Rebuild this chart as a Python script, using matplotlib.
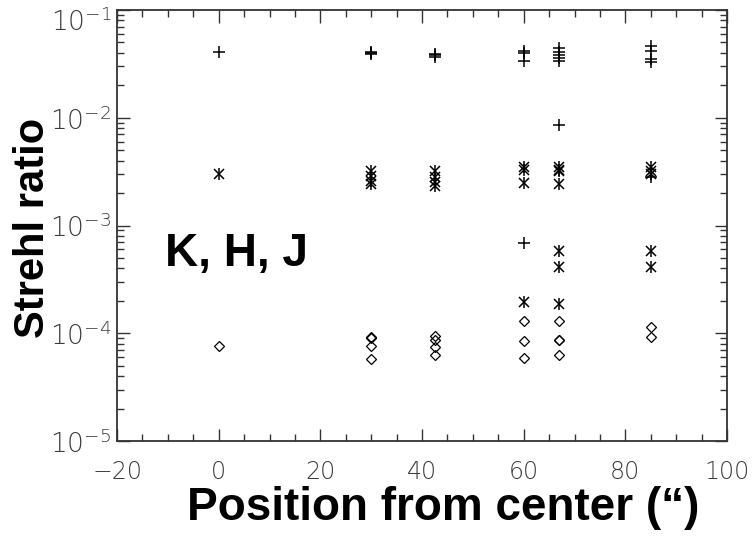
import numpy as np
import matplotlib
matplotlib.use("Agg")
import matplotlib.pyplot as plt
import matplotlib.transforms as mtransforms
from matplotlib.ticker import MultipleLocator, LogLocator, NullFormatter

# positions of the fields (arcsec from center)
# K band (plus), H band (asterisk), J band (diamond)
k_x = [0, 30, 30, 30, 42.5, 42.5, 42.5,
       60, 60, 60, 60,
       67, 67, 67, 67, 67, 67,
       85, 85, 85, 85, 85]
k_y = [0.041, 0.041, 0.040, 0.039, 0.039, 0.038, 0.037,
       0.042, 0.040, 0.034, 6.9e-4,
       0.044, 0.041, 0.038, 0.036, 0.034, 8.5e-3,
       0.046, 0.042, 0.035, 0.033, 2.8e-3]

h_x = [0, 30, 30, 30, 30, 42.5, 42.5, 42.5, 42.5,
       60, 60, 60, 60,
       67, 67, 67, 67, 67, 67, 67,
       85, 85, 85, 85, 85]
h_y = [3.0e-3, 3.2e-3, 2.9e-3, 2.6e-3, 2.45e-3, 3.2e-3, 2.8e-3, 2.55e-3, 2.35e-3,
       3.5e-3, 3.3e-3, 2.5e-3, 1.97e-4,
       3.5e-3, 3.3e-3, 3.2e-3, 2.45e-3, 5.8e-4, 4.1e-4, 1.88e-4,
       3.5e-3, 3.2e-3, 3.0e-3, 5.8e-4, 4.1e-4]

j_x = [0, 30, 30, 30, 30, 42.5, 42.5, 42.5, 42.5,
       60, 60, 60,
       67, 67, 67, 67,
       85, 85]
j_y = [7.6e-5, 9.3e-5, 9.0e-5, 7.6e-5, 5.8e-5, 9.4e-5, 8.7e-5, 7.4e-5, 6.3e-5,
       1.29e-4, 8.5e-5, 5.9e-5,
       1.31e-4, 8.6e-5, 8.7e-5, 6.3e-5,
       1.15e-4, 9.3e-5]

plt.rcParams['font.family'] = ['Liberation Sans', 'DejaVu Sans']
plt.rcParams['mathtext.fontset'] = 'custom'
plt.rcParams['mathtext.rm'] = 'DejaVu Sans:light'
plt.rcParams['mathtext.default'] = 'rm'

fig = plt.figure(figsize=(7.52, 5.36), dpi=100)
ax = fig.add_axes([0.1556, 0.1772, 0.8112, 0.8041])

ax.plot(k_x, k_y, linestyle='none', marker='+', ms=8.5, mew=1.1, color='black')
# IDL style asterisk: vertical bar + x
ax.plot(h_x, h_y, linestyle='none', marker='|', ms=8.5, mew=1.1, color='black')
ax.plot(h_x, h_y, linestyle='none', marker='x', ms=7, mew=1.1, color='black')
ax.plot(j_x, j_y, linestyle='none', marker='D', ms=5.5, mew=0.9,
        markerfacecolor='none', markeredgecolor='black')

ax.set_yscale('log')
ax.set_xlim(-20, 100)
ax.set_ylim(1e-5, 1e-1)

ax.xaxis.set_major_locator(MultipleLocator(20))
ax.xaxis.set_minor_locator(MultipleLocator(5))
ax.yaxis.set_major_locator(LogLocator(base=10, numticks=10))
ax.yaxis.set_minor_locator(LogLocator(base=10, subs=np.arange(2, 10), numticks=20))
ax.yaxis.set_minor_formatter(NullFormatter())

ax.tick_params(which='both', direction='in', top=True, right=True,
               colors='#333333', labelcolor='#3a3a3a', width=1.0)
ax.tick_params(which='major', length=9)
ax.tick_params(which='minor', length=5)
ax.tick_params(axis='x', which='major', pad=14, labelsize=17)
ax.tick_params(axis='y', which='major', pad=4, labelsize=19)
for lab in ax.get_xticklabels() + ax.get_yticklabels():
    lab.set_family('DejaVu Sans')
    lab.set_fontweight('light')
# the top label is pushed down a little so it stays inside the figure
shift = mtransforms.ScaledTranslation(0, -7 / 72, fig.dpi_scale_trans)
for val, lab in zip(ax.get_yticks(), ax.get_yticklabels()):
    if np.isclose(val, 0.1):
        lab.set_transform(lab.get_transform() + shift)
for sp in ax.spines.values():
    sp.set_color('#333333')
    sp.set_linewidth(1.3)

ax.set_xlabel('Position from center (\u201c)', fontsize=33, fontweight='bold')
ax.xaxis.set_label_coords(0.535, -0.105)
ax.set_ylabel('Strehl ratio', fontsize=30, fontweight='bold')
ax.yaxis.set_label_coords(-0.105, 0.495)

ax.text(-10.5, 5.4e-4, 'K, H, J', fontsize=33, fontweight='bold',
        ha='left', va='center')

fig.savefig('out.png', dpi=100)
